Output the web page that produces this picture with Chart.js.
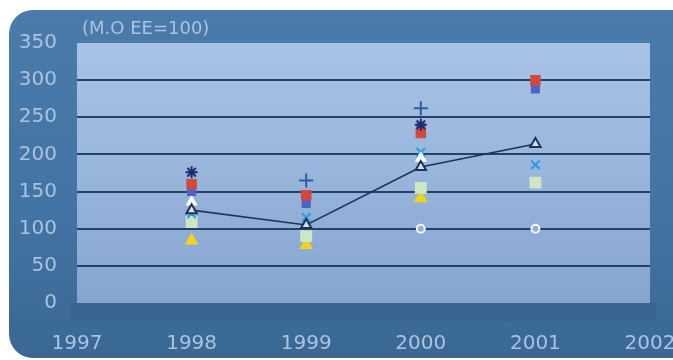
<!DOCTYPE html>
<html>
<head>
<meta charset="utf-8">
<script src="https://cdn.jsdelivr.net/npm/chart.js@4/dist/chart.umd.min.js"></script>
<style>
  html, body { margin: 0; padding: 0; background: #ffffff; width: 673px; height: 360px; overflow: hidden; }
  #frame { position: absolute; left: 9px; top: 10px; width: 700px; height: 348px; border-radius: 24px;
           background: linear-gradient(to bottom, #4b7bab 0%, #4373a3 60%, #3a6893 100%); }
  #wrap { position: absolute; left: 0; top: 0; width: 673px; height: 360px; }
</style>
</head>
<body>
<div id="frame"></div>
<div id="wrap"><canvas id="c" width="673" height="360"></canvas></div>
<script>
const years = [1998, 1999, 2000, 2001];
const navyStar = [176, null, 240, null];
const plusSeries = [null, 165, 262, null];
const redSquare = [160, 145, 229, 300];
const blueSquare = [150, 134, 236, 288];
const whiteTriangle = [136, null, 195, null];
const lineTriangle = [125, 105, 183, 214];
const cyanCross = [120, 115, 203, 186];
const paleSquare = [109, 90, 155, 162];
const yellowTriangle = [84, 78, 141, null];
const baseCircle = [null, null, 100, 100];
const xTicks = [1997, 1998, 1999, 2000, 2001, 2002];
const yTicks = [0, 50, 100, 150, 200, 250, 300, 350];
const unitLabel = '(M.O EE=100)';

function pts(arr) { return years.map((y, i) => ({ x: y, y: arr[i] })).filter(p => p.y !== null); }

function mk(arr, style, opts) {
  return Object.assign({ data: pts(arr), pointStyle: style, showLine: false, pointRadius: 6,
    borderWidth: 2, pointBorderWidth: 2 }, opts);
}

const datasets = [
  mk(lineTriangle, 'triangle', { showLine: true, borderColor: '#1d3456', borderWidth: 1.6,
    pointBackgroundColor: 'rgba(220,232,245,0.9)', pointBorderColor: '#1d3456', pointRadius: 6, order: 0 }),
  mk(baseCircle, 'circle', { pointBackgroundColor: '#94b0d4', pointBorderColor: '#f2f6fb', pointRadius: 4, order: 1 }),
  mk(navyStar, 'star', { pointBorderColor: '#1e2d6a', pointBackgroundColor: '#1e2d6a', pointRadius: 6, order: 2 }),
  mk(plusSeries, 'cross', { pointBorderColor: '#2f5c9a', pointRadius: 7, order: 3 }),
  mk(redSquare, 'rect', { pointBackgroundColor: '#d2483c', pointBorderColor: '#d2483c', pointRadius: 6, order: 4 }),
  mk(blueSquare, 'rect', { pointBackgroundColor: '#4f62c8', pointBorderColor: '#4f62c8', pointRadius: 5, order: 5 }),
  mk(whiteTriangle, 'triangle', { pointBackgroundColor: '#ffffff', pointBorderColor: '#ffffff', pointRadius: 5, order: 6 }),
  mk(cyanCross, 'crossRot', { pointBorderColor: '#2a9be0', pointRadius: 6, order: 7 }),
  mk(paleSquare, 'rect', { pointBackgroundColor: '#cfe6c4', pointBorderColor: '#cfe6c4', pointRadius: 7, order: 8 }),
  mk(yellowTriangle, 'triangle', { pointBackgroundColor: '#f3d21c', pointBorderColor: '#f3d21c', pointRadius: 6, order: 9 })
];

const bgPlugin = {
  id: 'plotBg',
  beforeDraw(chart) {
    const { ctx, chartArea: a } = chart;
    ctx.save();
    ctx.fillStyle = 'rgba(40,80,120,0.22)';
    ctx.fillRect(a.left - 6, a.bottom, a.right - a.left + 12, 18);
    const g = ctx.createLinearGradient(0, a.top, 0, a.bottom);
    g.addColorStop(0, '#a8c3e6');
    g.addColorStop(0.5, '#98b5dc');
    g.addColorStop(1, '#86a5cd');
    ctx.fillStyle = g;
    ctx.fillRect(a.left, a.top, a.right - a.left, a.bottom - a.top);
    ctx.restore();
  },
  afterDraw(chart) {
    const { ctx, chartArea: a } = chart;
    ctx.save();
    ctx.fillStyle = '#a9c4e0';
    ctx.font = '18px "DejaVu Sans", sans-serif';
    ctx.textBaseline = 'middle';
    ctx.fillText(unitLabel, a.left + 5, a.top - 14);
    ctx.restore();
  }
};

new Chart(document.getElementById('c'), {
  type: 'line',
  data: { datasets },
  options: {
    responsive: false,
    animation: false,
    layout: { padding: { top: 43, right: 23, left: 0, bottom: 0 } },
    plugins: { legend: { display: false }, tooltip: { enabled: false } },
    scales: {
      x: {
        type: 'linear', min: 1997, max: 2002,
        afterBuildTicks: s => { s.ticks = xTicks.map(v => ({ value: v })); },
        afterFit: s => { s.height = 57; s.paddingLeft = 0; s.paddingRight = 0; },
        grid: { display: false, drawTicks: false },
        border: { display: false },
        ticks: { padding: 29, color: '#a9c4e0', font: { family: '"DejaVu Sans", sans-serif', size: 20 },
          callback: v => String(v), maxRotation: 0, autoSkip: false }
      },
      y: {
        min: 0, max: 350,
        afterBuildTicks: s => { s.ticks = yTicks.map(v => ({ value: v })); },
        afterFit: s => { s.width = 77; s.paddingTop = 0; s.paddingBottom = 0; },
        grid: { drawTicks: false, lineWidth: 2,
          color: c => (c.tick && c.tick.value > 0 && c.tick.value < 350) ? '#22426a' : 'rgba(0,0,0,0)' },
        border: { display: false },
        ticks: { padding: 20, color: '#a9c4e0', font: { family: '"DejaVu Sans", sans-serif', size: 20 } }
      }
    }
  },
  plugins: [bgPlugin]
});
</script>
</body>
</html>
